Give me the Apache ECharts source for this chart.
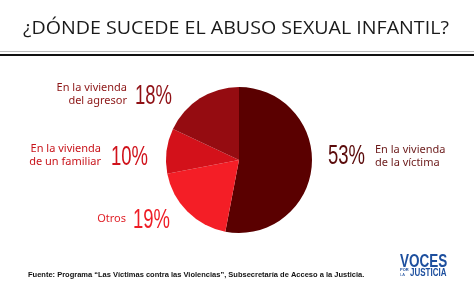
<!DOCTYPE html>
<html><head><meta charset="utf-8">
<script src="https://cdn.jsdelivr.net/npm/echarts@6/dist/echarts.min.js"></script>
<style>html,body{margin:0;padding:0;background:#fff}#c{width:474px;height:296px}</style>
</head><body><div id="c"></div>
<script>
var categories = ['En la vivienda de la víctima', 'Otros', 'En la vivienda de un familiar', 'En la vivienda del agresor'];
var values = [53, 19, 10, 18];
var pctLabels = ['53%', '19%', '10%', '18%'];
var nameLines = [['En la vivienda', 'de la víctima'], ['Otros'], ['En la vivienda', 'de un familiar'], ['En la vivienda', 'del agresor']];
var colors = ['#5a0000', '#f41e26', '#d3111a', '#950c11'];
var pctColors = ['#5a0a0a', '#ee1c25', '#d0121b', '#8f1015'];
var nameColors = ['#6b1a1a', '#e0232a', '#c8141b', '#8c1515'];

var chart = echarts.init(document.getElementById('c'), null, {renderer: 'canvas'});
var graphics = [
  {type: 'text', x: 23, y: 28.5, scaleX: 1.09, style: {text: '¿DÓNDE SUCEDE EL ABUSO SEXUAL INFANTIL?', font: '18px "Open Sans"', fill: '#1a1a1a', textVerticalAlign: 'middle'}},
  {type: 'rect', shape: {x: 0, y: 51, width: 474, height: 1}, style: {fill: '#bbbbbb'}},
  {type: 'rect', shape: {x: 0, y: 54, width: 474, height: 2}, style: {fill: '#111111'}},
  {type: 'text', x: 28, y: 275, style: {text: 'Fuente: Programa “Las Víctimas contra las Violencias”, Subsecretaría de Acceso a la Justicia.', font: 'bold 7.5px "Liberation Sans"', fill: '#111', textVerticalAlign: 'middle'}},
  {type: 'text', x: 400, y: 262, scaleX: 0.75, style: {text: 'VOCES', font: 'bold 18px "Liberation Sans"', fill: '#1d4f9e', textVerticalAlign: 'middle'}},
  {type: 'text', x: 400, y: 270, style: {text: 'POR', font: 'bold 4px "Liberation Sans"', fill: '#1d4f9e', textVerticalAlign: 'middle'}},
  {type: 'text', x: 400, y: 275, style: {text: 'LA', font: '4px "Liberation Sans"', fill: '#1d4f9e', textVerticalAlign: 'middle'}},
  {type: 'text', x: 410, y: 273, scaleX: 0.8, style: {text: 'JUSTICIA', font: 'bold 10px "Liberation Sans"', fill: '#1d4f9e', textVerticalAlign: 'middle'}}
];
// label layout: [pctX, pctY, nameX, nameY, nameAlign]
var layout = [
  [328, 156, 375, 150, 'left'],
  [133, 220, 126, 219, 'right'],
  [111, 157, 101, 149, 'right'],
  [135, 96, 127, 88, 'right']
];
for (var i = 0; i < values.length; i++) {
  var L = layout[i];
  graphics.push({type: 'text', x: L[0], y: L[1], scaleX: 0.66, style: {text: pctLabels[i], font: '28px "Liberation Sans"', fill: pctColors[i], textVerticalAlign: 'middle', textAlign: 'left'}});
  for (var j = 0; j < nameLines[i].length; j++) {
    graphics.push({type: 'text', x: L[2], y: L[3] + j * 12.5, style: {text: nameLines[i][j], font: '11px "Noto Sans"', fill: nameColors[i], textVerticalAlign: 'middle', textAlign: L[4]}});
  }
}
chart.setOption({
  animation: false,
  backgroundColor: '#ffffff',
  graphic: graphics,
  series: [{
    type: 'pie',
    center: [239, 160],
    radius: 73,
    startAngle: 90,
    clockwise: true,
    label: {show: false},
    labelLine: {show: false},
    itemStyle: {borderWidth: 0},
    emphasis: {disabled: true},
    data: categories.map(function (c, i) { return {name: c, value: values[i], itemStyle: {color: colors[i]}}; })
  }]
});
</script></body></html>
